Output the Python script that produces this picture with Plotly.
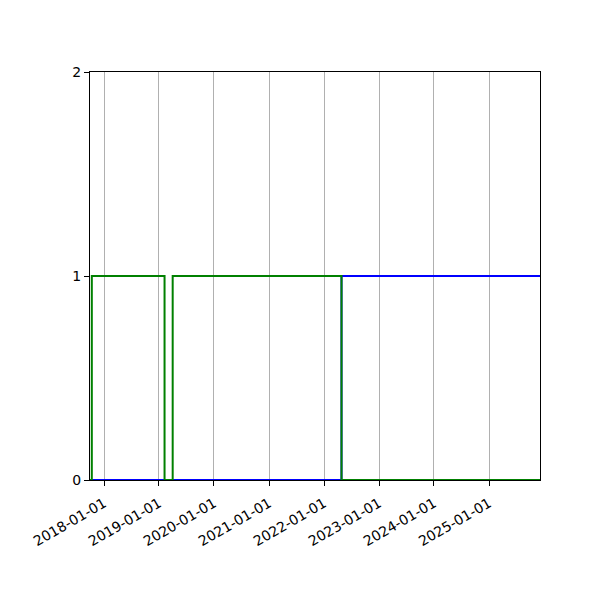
import plotly.graph_objects as go

# Step series (values hold until the next date)
blue_dates = ["2017-09-30", "2022-04-27", "2025-12-05"]
blue_values = [0, 1, 1]

green_dates = ["2017-09-30", "2017-10-12", "2019-02-07", "2019-04-02", "2022-04-27", "2025-12-05"]
green_values = [0, 1, 0, 1, 0, 0]

x_start = "2017-09-30"
x_end = "2025-12-05"
y_ticks = [0, 1, 2]

fig = go.Figure()

fig.add_trace(go.Scatter(
    x=blue_dates, y=blue_values, mode="lines", line_shape="hv",
    line=dict(color="#0000ff", width=2), showlegend=False,
))
fig.add_trace(go.Scatter(
    x=green_dates, y=green_values, mode="lines", line_shape="hv",
    line=dict(color="#008000", width=2), showlegend=False,
))

# the page body adds 8px, so margins are shifted to compensate
fig.update_layout(
    width=600, height=600,
    margin=dict(l=82, r=68, t=64, b=128),
    plot_bgcolor="white", paper_bgcolor="white",
    font=dict(family="DejaVu Sans", size=14, color="black"),
)

fig.update_xaxes(
    type="date", range=[x_start, x_end],
    tick0="2018-01-01", dtick="M12", tickformat="%Y-%m-%d", tickangle=-30,
    ticklabelstandoff=4,
    showgrid=True, gridcolor="#b0b0b0", gridwidth=1,
    showline=True, linecolor="black", linewidth=1, mirror=True,
    ticks="outside", ticklen=5, tickcolor="black", zeroline=False,
)
fig.update_yaxes(
    range=[0, 2], tickvals=y_ticks,
    showgrid=False,
    showline=True, linecolor="black", linewidth=1, mirror=True,
    ticks="outside", ticklen=5, tickcolor="black", zeroline=False,
)

fig.write_html("out.html")
